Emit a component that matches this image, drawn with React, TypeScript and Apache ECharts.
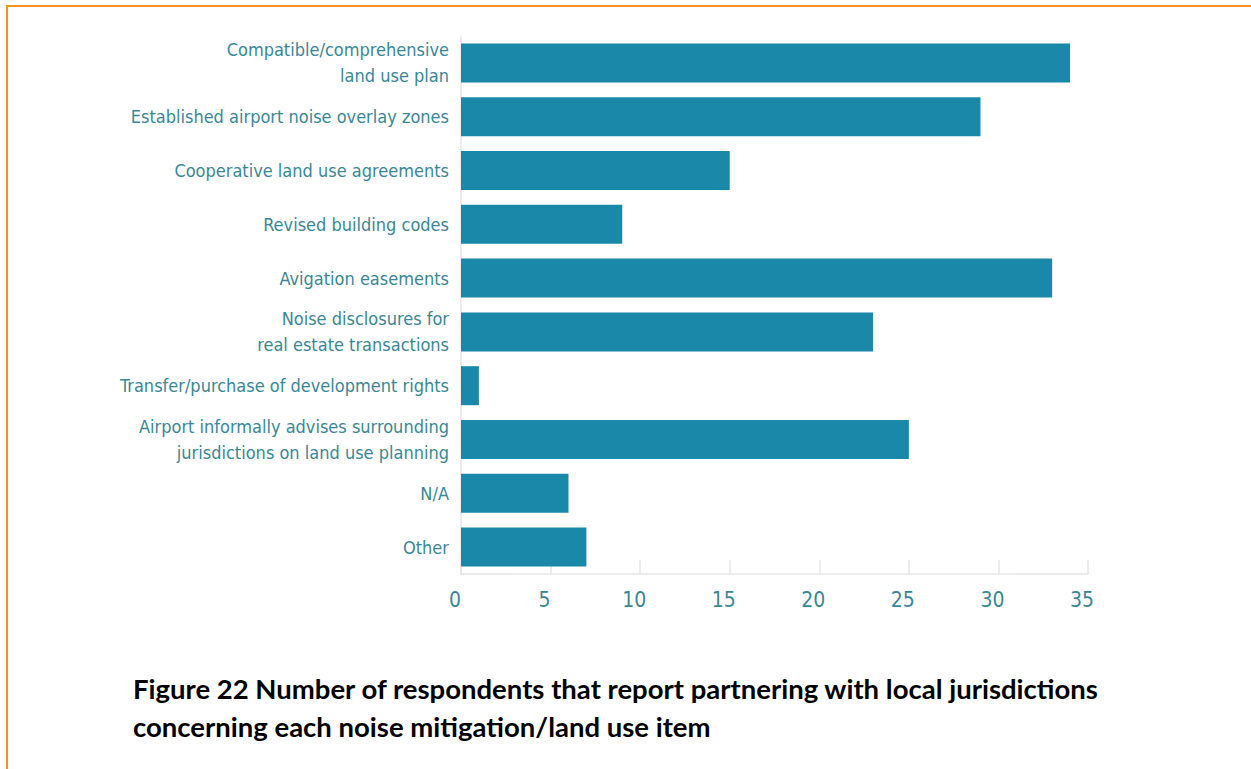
import React, { useEffect, useRef } from "react";
import * as echarts from "echarts";

const categories = [
  "Compatible/comprehensive\nland use plan",
  "Established airport noise overlay zones",
  "Cooperative land use agreements",
  "Revised building codes",
  "Avigation easements",
  "Noise disclosures for\nreal estate transactions",
  "Transfer/purchase of development rights",
  "Airport informally advises surrounding\njurisdictions on land use planning",
  "N/A",
  "Other",
];
const values = [34, 29, 15, 9, 33, 23, 1, 25, 6, 7];
const axisMax = 35;
const axisStep = 5;
const captionLines = [
  "Figure 22 Number of respondents that report partnering with local jurisdictions",
  "concerning each noise mitigation/land use item",
];

const LABEL_FONT = "'DejaVu Sans Condensed', 'Liberation Sans Narrow', sans-serif";
const TEAL_TEXT = "#3a8796";
const BAR = "#1a88a9";
const AXIS_LINE = "#e4e4ec";

export default function App() {
  const ref = useRef<HTMLDivElement>(null);
  useEffect(() => {
    if (!ref.current) return;
    const chart = echarts.init(ref.current, null, { renderer: "svg" });
    chart.setOption({
      animation: false,
      backgroundColor: "#ffffff",
      grid: { left: 461, right: 163, top: 36, bottom: 195, containLabel: false },
      xAxis: {
        type: "value",
        min: 0,
        max: axisMax,
        interval: axisStep,
        axisLine: { show: true, lineStyle: { color: AXIS_LINE, width: 1.5 } },
        axisTick: { show: true, inside: true, length: 14, lineStyle: { color: AXIS_LINE, width: 1.5 } },
        splitLine: { show: false },
        axisLabel: {
          color: TEAL_TEXT,
          fontFamily: LABEL_FONT,
          fontSize: 21,
          margin: 15,
          padding: [0, 12, 0, 0],
        },
      },
      yAxis: {
        type: "category",
        data: categories,
        inverse: true,
        axisLine: { show: true, lineStyle: { color: AXIS_LINE, width: 1.5 } },
        axisTick: { show: false },
        axisLabel: {
          color: TEAL_TEXT,
          fontFamily: LABEL_FONT,
          fontSize: 18,
          lineHeight: 26,
          margin: 12,
          align: "right",
        },
      },
      series: [
        {
          type: "bar",
          data: values,
          barWidth: 39,
          itemStyle: { color: BAR },
        },
      ],
      graphic: [
        {
          type: "line",
          shape: { x1: 7, y1: 6, x2: 1251, y2: 6 },
          style: { stroke: "#f7941d", lineWidth: 2 },
        },
        {
          type: "line",
          shape: { x1: 7, y1: 5, x2: 7, y2: 769 },
          style: { stroke: "#f7941d", lineWidth: 2 },
        },
        {
          type: "text",
          left: 133,
          top: 669,
          style: {
            text: captionLines.join("\n"),
            fill: "#000000",
            font: "bold 27.5px Lato, 'Open Sans', sans-serif",
            lineHeight: 38,
          },
        },
      ],
    });
    return () => chart.dispose();
  }, []);
  return (
    <div
      ref={ref}
      style={{ position: "absolute", left: 0, top: 0, width: 1251, height: 769, background: "#fff" }}
    />
  );
}
